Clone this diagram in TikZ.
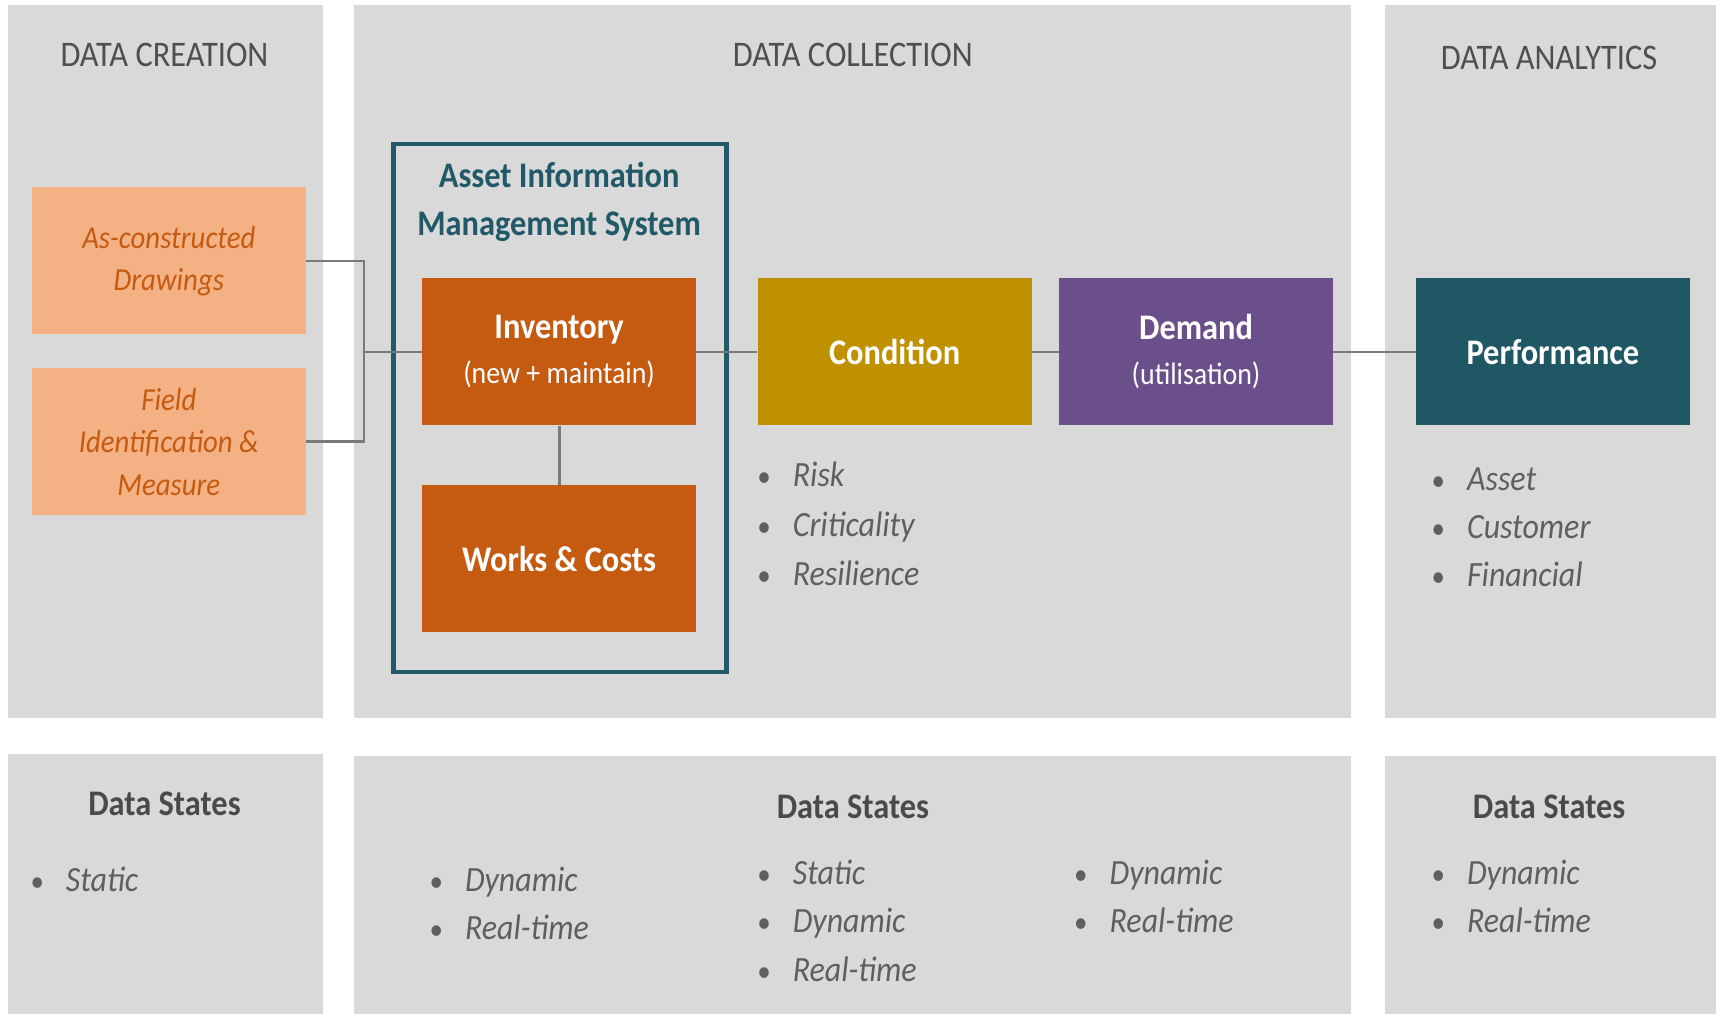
\documentclass[tikz,border=0pt]{standalone}
\usepackage{fontspec}
\setmainfont[FakeStretch=0.9]{Carlito}
\definecolor{panel}{HTML}{D9D9D9}
\definecolor{titlegray}{HTML}{4F4F4F}
\definecolor{statesgray}{HTML}{4A4A4A}
\definecolor{listgray}{HTML}{5F5F5F}
\definecolor{peach}{HTML}{F4B183}
\definecolor{srcorange}{HTML}{C55A11}
\definecolor{invorange}{HTML}{C55A11}
\definecolor{condgold}{HTML}{BF9000}
\definecolor{dempurple}{HTML}{6A4F8A}
\definecolor{perfteal}{HTML}{1F5864}
\definecolor{aimsteal}{HTML}{215968}
\definecolor{conngray}{HTML}{7A7A7A}
\tikzset{
  title/.style={text=titlegray, font=\fontsize{36}{43}\selectfont, anchor=base, inner sep=0},
  states/.style={text=statesgray, font=\bfseries\fontsize{36}{43}\selectfont, anchor=base, inner sep=0},
  box/.style={minimum width=274pt, minimum height=147pt, inner sep=0, align=center, text=white},
  srcbox/.style={box, fill=peach, text=srcorange, font=\itshape\fontsize{32}{42.5}\selectfont},
  bigbox/.style={box, font=\bfseries\fontsize{36}{45}\selectfont},
  conn/.style={draw=conngray, line width=2.8pt},
  itm/.style={anchor=base west, inner sep=0, text=listgray, font=\itshape\fontsize{35.5}{42}\selectfont},
  bul/.style={anchor=base, inner sep=0, text=listgray, font=\fontsize{30}{36}\selectfont},
}
\newcommand\bitem[4]{\node[bul] (#1b) at (#2-26,#3) {\textbullet}; \node[itm] (#1) at (#2,#3) {#4};}
\begin{document}
\begin{tikzpicture}[x=1.0963pt,y=-1.0963pt]
\useasboundingbox (0,0) rectangle (1568,925);
\fill[white] (0,0) rectangle (1568,925);
% panels
\fill[panel] (7,5) rectangle (295,655);
\fill[panel] (323,5) rectangle (1232,655);
\fill[panel] (1263,5) rectangle (1565,655);
\fill[panel] (7,688) rectangle (295,925);
\fill[panel] (323,690) rectangle (1232,925);
\fill[panel] (1263,690) rectangle (1565,925);
% titles
\node[title] (t1) at (150,61) {DATA CREATION};
\node[title] (t2) at (778,61) {DATA COLLECTION};
\node[title] (t3) at (1413,63) {DATA ANALYTICS};
% AIMS frame
\node[draw=aimsteal, line width=4.6pt, minimum width=333pt, minimum height=528pt, inner sep=0] (aims) at (511,372) {};
\node[text=aimsteal, font=\bfseries\fontsize{36}{48}\selectfont, align=center, inner sep=0] (aimstitle) at (510,184) {Asset Information\\Management System};
% source boxes
\node[srcbox] (ascon) at (154,238) {As-constructed\\Drawings};
\node[srcbox] (field) at (154,403) {Field\\Identification \&\\Measure};
% main boxes
\node[box, fill=invorange, font=\fontsize{31}{45}\selectfont] (inv) at (510,321) {{\bfseries\fontsize{36}{45}\selectfont Inventory}\\(new + maintain)};
\node[bigbox, fill=invorange] (works) at (510,509.5) {Works \& Costs};
\node[bigbox, fill=condgold] (cond) at (816,321) {Condition};
\node[box, fill=dempurple, font=\fontsize{31}{45}\selectfont] (dem) at (1091,321) {{\bfseries\fontsize{36}{45}\selectfont Demand}\\(utilisation)};
\node[bigbox, fill=perfteal] (perf) at (1416.5,321) {Performance};
% connectors
\coordinate (j) at (332,321);
\draw[conn] (ascon.east) -| (j) |- (field.east);
\draw[conn] (j) -- (inv.west);
\draw[conn] (inv.south) -- (works.north);
\draw[conn] (inv.east) -- (cond.west);
\draw[conn] (cond.east) -- (dem.west);
\draw[conn] (dem.east) -- (perf.west);
% lists
\bitem{c1}{723}{444}{Risk}
\bitem{c2}{723}{489}{Criticality}
\bitem{c3}{723}{534}{Resilience}
\bitem{p1}{1338}{447}{Asset}
\bitem{p2}{1338}{491}{Customer}
\bitem{p3}{1338}{535}{Financial}
% bottom
\node[states] (s1) at (150,744) {Data States};
\node[states] (s2) at (778,747) {Data States};
\node[states] (s3) at (1413,747) {Data States};
\bitem{b1}{60}{813}{Static}
\bitem{m1}{424}{813}{Dynamic}
\bitem{m2}{424}{857}{Real-time}
\bitem{n1}{723}{807}{Static}
\bitem{n2}{723}{851}{Dynamic}
\bitem{n3}{723}{895}{Real-time}
\bitem{o1}{1012}{807}{Dynamic}
\bitem{o2}{1012}{851}{Real-time}
\bitem{r1}{1338}{807}{Dynamic}
\bitem{r2}{1338}{851}{Real-time}
\end{tikzpicture}
\end{document}
